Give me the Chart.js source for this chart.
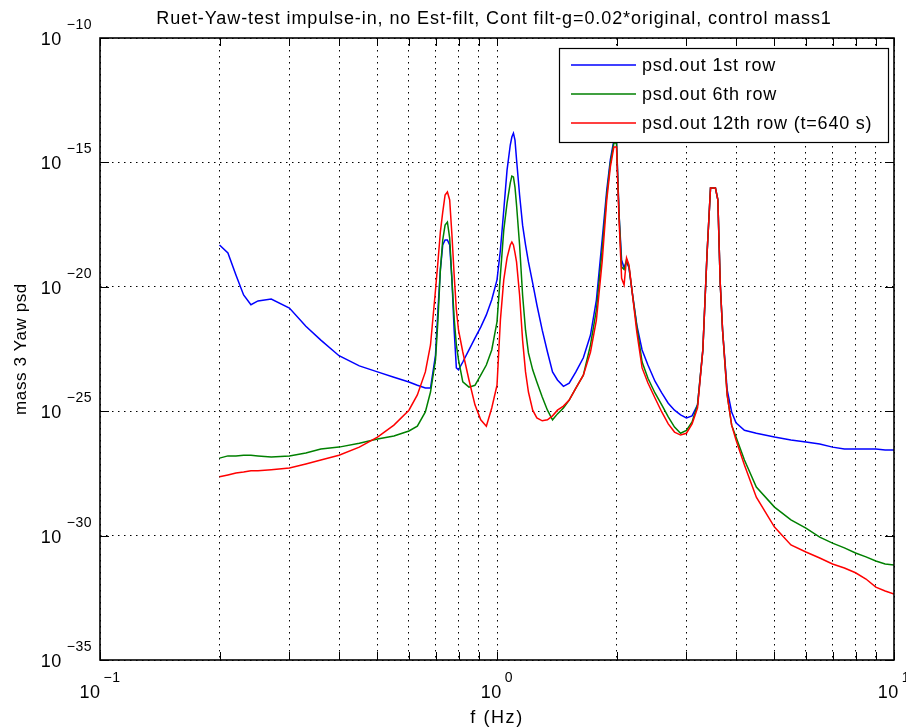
<!DOCTYPE html>
<html>
<head>
<meta charset="utf-8">
<script src="https://cdn.jsdelivr.net/npm/chart.js@4.4.1/dist/chart.umd.min.js"></script>
<style>
html,body{margin:0;padding:0;background:#ffffff;}
#wrap{width:906px;height:728px;}
</style>
</head>
<body>
<div id="wrap"><canvas id="c" width="906" height="728"></canvas></div>
<script>
// ---------- data ----------
const freqHz = [0.20,0.21,0.22,0.23,0.24,0.25,0.27,0.30,0.33,0.36,
  0.40,0.45,0.50,0.55,0.60,0.63,0.66,0.68,0.70,0.71,
  0.72,0.73,0.74,0.75,0.76,0.77,0.78,0.79,0.80,0.82,
  0.85,0.88,0.91,0.94,0.97,1.00,1.02,1.04,1.06,1.08,
  1.09,1.10,1.11,1.12,1.14,1.16,1.18,1.20,1.23,1.26,
  1.30,1.34,1.38,1.42,1.47,1.52,1.58,1.65,1.72,1.78,
  1.84,1.89,1.93,1.97,2.00,2.03,2.06,2.09,2.12,2.15,
  2.19,2.25,2.32,2.40,2.50,2.60,2.70,2.80,2.90,3.00,
  3.10,3.20,3.30,3.38,3.45,3.50,3.55,3.60,3.65,3.70,
  3.80,3.90,4.00,4.20,4.50,5.00,5.50,6.00,6.50,7.00,
  7.50,8.00,8.50,9.00,9.50,10.0];

const psdRow1 = [4.8e-19,2.3e-19,3.0e-20,4.7e-21,1.9e-21,2.7e-21,3.2e-21,1.4e-21,2.6e-22,7.2e-23,
  1.7e-23,6.6e-24,3.8e-24,2.3e-24,1.5e-24,1.1e-24,8.5e-25,8.5e-25,1.8e-23,1.2e-21,
  4.8e-20,4.8e-19,7.6e-19,7.6e-19,4.8e-19,1.9e-20,1.8e-22,5.5e-24,4.6e-24,9.5e-24,
  2.9e-23,8.7e-23,2.4e-22,7.4e-22,3.0e-21,1.9e-20,3.0e-19,1.2e-17,4.9e-16,5.0e-15,
  1.05e-14,1.5e-14,7.9e-15,1.3e-15,4.9e-17,3.0e-18,4.8e-19,1.0e-19,1.4e-20,1.9e-21,
  1.8e-22,2.4e-23,3.8e-24,1.8e-24,1.0e-24,1.35e-24,3.8e-24,1.4e-23,1.15e-22,3.0e-21,
  7.6e-19,7.8e-17,1.3e-15,7.9e-15,7.9e-15,7.8e-18,1.2e-19,5.8e-20,1.0e-19,5.8e-20,
  6.2e-21,2.9e-22,2.9e-23,7.2e-24,1.6e-24,5.4e-25,2.1e-25,1.1e-25,7.1e-26,5.4e-26,
  6.5e-26,1.8e-25,2.9e-23,1.9e-19,9.3e-17,9.3e-17,9.3e-17,3.1e-17,1.4e-20,1.8e-22,
  7.1e-25,9.3e-26,3.4e-26,1.7e-26,1.3e-26,9.1e-27,6.9e-27,5.8e-27,4.8e-27,3.6e-27,
  3.0e-27,3.0e-27,3.0e-27,3.0e-27,2.75e-27,2.75e-27];

const psdRow6 = [1.3e-27,1.6e-27,1.6e-27,1.7e-27,1.7e-27,1.6e-27,1.45e-27,1.6e-27,2.1e-27,3.0e-27,
  3.6e-27,5.2e-27,7.6e-27,1.0e-26,1.6e-26,2.5e-26,9.3e-26,5.9e-25,1.15e-23,4.7e-22,
  4.8e-20,7.6e-19,3.0e-18,4.0e-18,9.1e-19,1.9e-20,5.6e-22,4.6e-23,1.15e-23,1.5e-24,
  9.3e-25,1.1e-24,2.8e-24,7.2e-24,2.9e-23,3.9e-22,3.0e-20,1.9e-18,2.3e-17,1.5e-16,
  2.8e-16,2.6e-16,1.0e-16,1.95e-17,4.8e-19,4.7e-21,1.8e-22,2.2e-23,4.6e-24,1.5e-24,
  3.7e-25,1.1e-25,4.5e-26,7.8e-26,1.35e-25,2.8e-25,8.5e-25,2.8e-24,4.6e-23,1.2e-21,
  3.0e-19,4.9e-17,9.5e-16,6.0e-15,6.0e-15,7.8e-18,6.3e-20,5.0e-20,1.26e-19,6.3e-20,
  6.2e-21,2.5e-22,9.5e-24,2.1e-24,5.4e-25,1.8e-25,5.9e-26,2.3e-26,1.3e-26,1.7e-26,
  3.7e-26,1.8e-25,2.9e-23,1.9e-19,9.3e-17,9.3e-17,9.3e-17,3.1e-17,1.4e-20,1.8e-22,
  4.5e-25,2.75e-26,9.1e-27,1.1e-27,8.9e-29,1.4e-29,4.3e-30,2.0e-30,8.7e-31,5.0e-31,
  3.2e-31,2.0e-31,1.4e-31,9.5e-32,7.2e-32,6.6e-32];

const psdRow12 = [2.3e-28,2.75e-28,3.3e-28,3.6e-28,4.0e-28,4.0e-28,4.4e-28,5.2e-28,7.6e-28,1.1e-27,
  1.7e-27,3.6e-27,9.1e-27,2.75e-26,1.1e-25,4.5e-25,3.8e-24,4.6e-23,7.4e-21,1.0e-19,
  1.6e-18,1.0e-17,4.9e-17,6.5e-17,3.1e-17,1.2e-18,3.0e-20,1.2e-21,1.8e-22,2.4e-23,
  1.8e-24,1.8e-25,4.5e-26,2.5e-26,1.35e-25,1.1e-24,4.7e-22,1.9e-20,1.45e-19,4.8e-19,
  6.3e-19,4.8e-19,2.3e-19,1.0e-19,4.7e-21,7.2e-23,3.8e-24,5.9e-25,1.1e-25,5.4e-26,
  4.1e-26,4.5e-26,6.5e-26,1.1e-25,1.6e-25,2.8e-25,8.5e-25,2.8e-24,2.4e-23,4.7e-22,
  1.0e-19,3.1e-17,6.6e-16,4.2e-15,4.2e-15,4.8e-18,2.2e-20,1.2e-20,1.45e-19,7.6e-20,
  6.2e-21,1.5e-22,5.5e-24,1.35e-24,3.4e-25,9.3e-26,3.1e-26,1.45e-26,1.1e-26,1.3e-26,
  3.1e-26,1.35e-25,2.9e-23,1.9e-19,9.3e-17,9.3e-17,9.3e-17,3.1e-17,1.4e-20,1.8e-22,
  4.5e-25,2.75e-26,6.9e-27,6.9e-28,3.5e-29,2.2e-30,4.2e-31,2.2e-31,1.26e-31,7.2e-32,
  5.0e-32,3.2e-32,1.8e-32,8.5e-33,5.9e-33,4.5e-33];

const seriesNames = ['psd.out 1st row', 'psd.out 6th row', 'psd.out 12th row (t=640 s)'];
const seriesColors = ['#0000ff', '#008000', '#ff0000'];

const xTickValues = [0.1,0.2,0.3,0.4,0.5,0.6,0.7,0.8,0.9,1,2,3,4,5,6,7,8,9,10];
const xLabelValues = [0.1, 1, 10];
const yTickValues = [1e-35, 1e-30, 1e-25, 1e-20, 1e-15, 1e-10];

const titleText = 'Ruet-Yaw-test impulse-in, no Est-filt, Cont filt-g=0.02*original, control mass1';
const xTitleText = 'f (Hz)';
const yTitleText = 'mass 3 Yaw psd';

// ---------- chart ----------
const FONT = '"Liberation Sans", Arial, Helvetica, sans-serif';

function expLabel(v) {
  const e = Math.round(Math.log10(v));
  return e < 0 ? '\u2212' + String(-e) : String(e);
}
function setSpacing(ctx, s) { if ('letterSpacing' in ctx) ctx.letterSpacing = s; }

const matlabDecor = {
  id: 'matlabDecor',
  afterDatasetsDraw(chart) {
    const ctx = chart.ctx;
    const {left, right, top, bottom} = chart.chartArea;
    const xs = chart.scales.x, ys = chart.scales.y;
    ctx.save();
    ctx.setLineDash([]);
    ctx.strokeStyle = '#000';
    // inward ticks
    ctx.lineWidth = 1;
    ctx.beginPath();
    xTickValues.forEach(v => {
      const px = Math.round(xs.getPixelForValue(v)) + 0.5;
      ctx.moveTo(px, bottom); ctx.lineTo(px, bottom - 8);
      ctx.moveTo(px, top); ctx.lineTo(px, top + 8);
    });
    yTickValues.forEach(v => {
      const py = Math.round(ys.getPixelForValue(v)) + 0.5;
      ctx.moveTo(left, py); ctx.lineTo(left + 9, py);
      ctx.moveTo(right, py); ctx.lineTo(right - 9, py);
    });
    ctx.stroke();
    // box
    ctx.lineWidth = 1.6;
    ctx.strokeRect(left, top, right - left, bottom - top);

    // legend
    const lgW = 329, lgH = 94;
    const lgX = right - 6 - lgW, lgY = top + 10;
    ctx.fillStyle = '#fff';
    ctx.fillRect(lgX, lgY, lgW, lgH);
    ctx.lineWidth = 1.2;
    ctx.strokeStyle = '#000';
    ctx.strokeRect(lgX + 0.5, lgY + 0.5, lgW, lgH);
    ctx.font = '18px ' + FONT;
    setSpacing(ctx, '0.8px');
    ctx.textAlign = 'left';
    ctx.textBaseline = 'middle';
    chart.data.datasets.forEach((ds, i) => {
      const ly = lgY + 17 + i * 29;
      ctx.strokeStyle = ds.borderColor;
      ctx.lineWidth = 1.4;
      ctx.beginPath();
      ctx.moveTo(lgX + 12, ly); ctx.lineTo(lgX + 77, ly);
      ctx.stroke();
      ctx.fillStyle = '#000';
      ctx.fillText(ds.label, lgX + 83, ly + 1);
    });
    setSpacing(ctx, '0px');
    ctx.restore();
  },
  afterDraw(chart) {
    const ctx = chart.ctx;
    const {left, right, top, bottom} = chart.chartArea;
    const xs = chart.scales.x, ys = chart.scales.y;
    ctx.save();
    ctx.fillStyle = '#000';
    ctx.textBaseline = 'alphabetic';
    const baseFont = '18px ' + FONT, expFont = '14px ' + FONT;
    setSpacing(ctx, '0.5px');
    // y tick labels
    yTickValues.forEach(v => {
      const py = ys.getPixelForValue(v);
      const ex = expLabel(v);
      ctx.font = expFont;
      const we = ctx.measureText(ex).width;
      ctx.textAlign = 'right';
      ctx.fillText(ex, left - 8, py - 9);
      ctx.font = baseFont;
      ctx.fillText('10', left - 8 - we - 5, py + 7);
    });
    // x tick labels
    xLabelValues.forEach(v => {
      const px = xs.getPixelForValue(v);
      const ex = expLabel(v);
      ctx.font = baseFont;
      const wb = ctx.measureText('10').width;
      ctx.font = expFont;
      const we = ctx.measureText(ex).width;
      const total = wb + 3 + we;
      const x0 = px - total / 2;
      ctx.textAlign = 'left';
      ctx.font = baseFont;
      ctx.fillText('10', x0, bottom + 38);
      ctx.font = expFont;
      ctx.fillText(ex, x0 + wb + 3, bottom + 22);
    });
    // axis titles
    ctx.textAlign = 'center';
    ctx.font = '18px ' + FONT;
    setSpacing(ctx, '1.6px');
    ctx.fillText(xTitleText, (left + right) / 2, bottom + 63);
    ctx.save();
    ctx.translate(26, (top + bottom) / 2);
    ctx.rotate(-Math.PI / 2);
    ctx.font = '17px ' + FONT;
    setSpacing(ctx, '0.6px');
    ctx.fillText(yTitleText, 0, 0);
    ctx.restore();
    // title
    ctx.font = '18px ' + FONT;
    setSpacing(ctx, '0.9px');
    ctx.fillText(titleText, (left + right) / 2 - 3, 24);
    setSpacing(ctx, '0px');
    ctx.restore();
  }
};

const seriesValues = [psdRow1, psdRow6, psdRow12];
const datasets = seriesValues.map((vals, i) => ({
  label: seriesNames[i],
  data: freqHz.map((f, k) => ({x: f, y: vals[k]})),
  borderColor: seriesColors[i],
  backgroundColor: seriesColors[i],
  borderWidth: 1.5,
  pointRadius: 0,
  tension: 0,
  fill: false,
  order: 3 - i
}));

new Chart(document.getElementById('c'), {
  type: 'line',
  data: {datasets},
  options: {
    responsive: false,
    animation: false,
    layout: {padding: {left: 100, right: 12, top: 38, bottom: 68}},
    plugins: {legend: {display: false}, tooltip: {enabled: false}, title: {display: false}},
    scales: {
      x: {
        type: 'logarithmic', min: 0.1, max: 10,
        afterBuildTicks: s => { s.ticks = xTickValues.map(v => ({value: v})); },
        ticks: {display: false},
        grid: {color: '#000', lineWidth: 1, drawTicks: false},
        border: {display: false, dash: [1.5, 4.5]}
      },
      y: {
        type: 'logarithmic', min: 1e-35, max: 1e-10,
        afterBuildTicks: s => { s.ticks = yTickValues.map(v => ({value: v})); },
        ticks: {display: false},
        grid: {color: '#000', lineWidth: 1, drawTicks: false},
        border: {display: false, dash: [1.5, 4.5]}
      }
    }
  },
  plugins: [matlabDecor]
});
</script>
</body>
</html>
